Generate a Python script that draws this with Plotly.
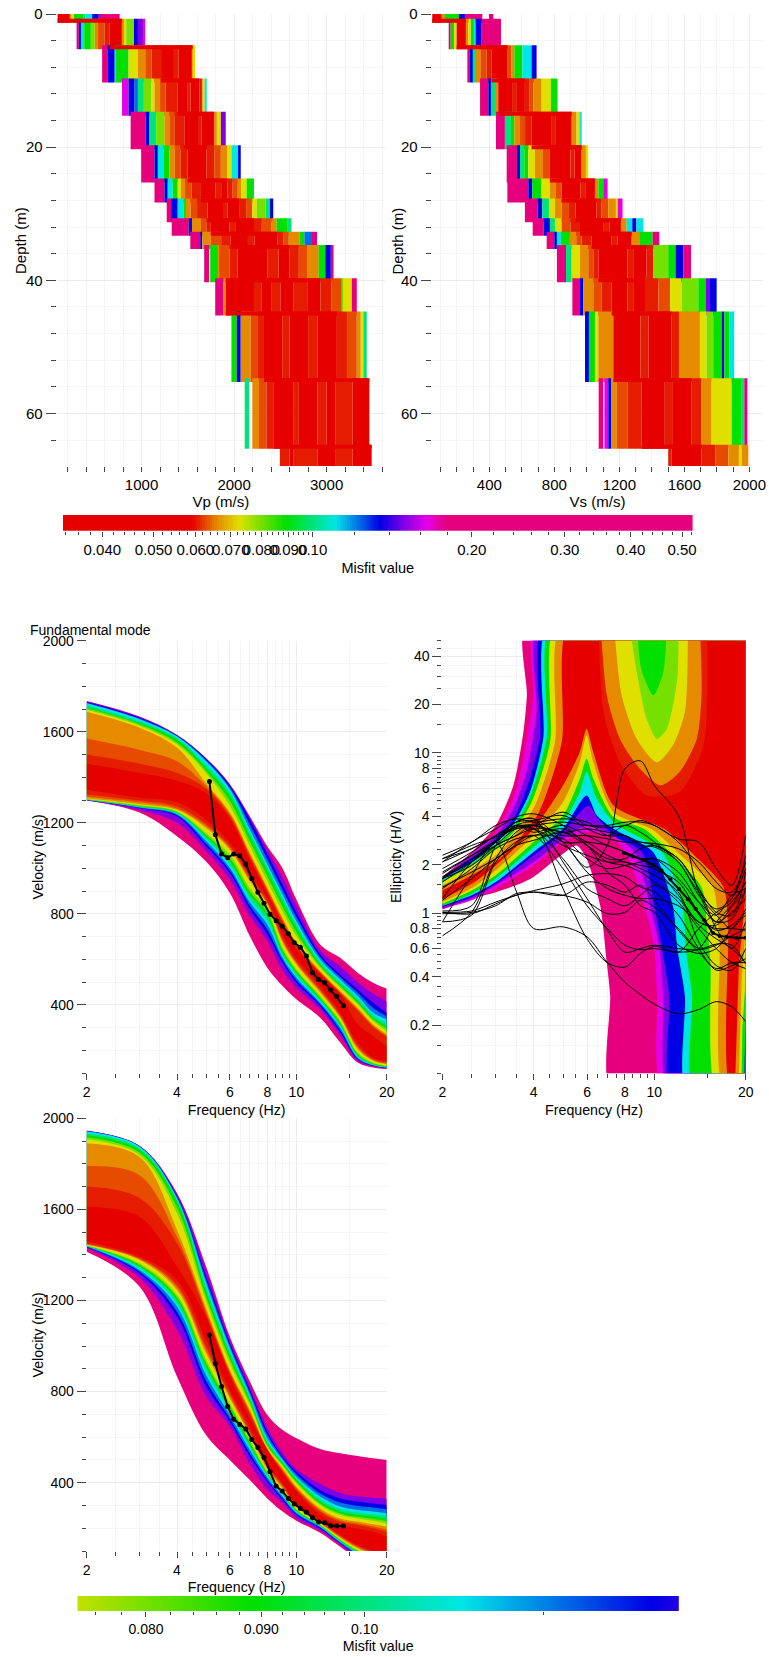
import math
import numpy as np
import plotly.graph_objects as go

W, H = 769, 1657
FONT = "Liberation Sans, Arial, sans-serif"

# ---- misfit classes
R, r, d, O, Y, L, G, T, C, S, B, V, M, P = (0.05, 0.0605, 0.0628, 0.066, 0.0726, 0.08, 0.089, 0.10,
                                            0.1105, 0.122, 0.134, 0.1486, 0.1647, 0.20)
MISFIT_STOPS = [0.0337, 0.0592, 0.066, 0.0726, 0.0891, 0.1105, 0.134, 0.1486, 0.1647, 0.1785, 0.5236]
MISFIT_COLORS = ["#e60000", "#e60000", "#e68a00", "#e0e000", "#00e000", "#00e6e6",
                 "#0000e6", "#8000e6", "#e600e6", "#e6007e", "#e6007e"]

# ---- velocity profiles
DEPTH_BOUNDS = [0, 1, 5, 10, 15, 20, 25, 28, 31, 33, 35, 40, 45, 55, 65, 68]
VP_EDGES = [
    [93, 226, 244, 269, 369, 394, 466, 538, 763],
    [298, 323, 345, 380, 452, 495, 530, 600, 656, 789, 810, 835, 918, 961, 1018, 1039],
    [574, 631, 710, 725, 860, 961, 1040, 1110, 1211, 1350, 1400, 1552, 1563, 1581],
    [789, 860, 925, 961, 1025, 1104, 1140, 1200, 1260, 1391, 1500, 1530, 1624, 1659, 1684, 1699],
    [882, 1043, 1086, 1158, 1247, 1300, 1360, 1462, 1620, 1650, 1785, 1814, 1857, 1910],
    [996, 1140, 1176, 1236, 1301, 1360, 1420, 1498, 1700, 1785, 1857, 1928, 1971, 2043, 2072],
    [1140, 1247, 1283, 1337, 1391, 1426, 1470, 1540, 1642, 1800, 1860, 1928, 1985, 2040, 2079, 2136, 2215],
    [1272, 1319, 1391, 1455, 1480, 1530, 1600, 1713, 1880, 1930, 2054, 2130, 2197, 2244, 2340, 2387, 2423],
    [1326, 1509, 1545, 1642, 1700, 1749, 1950, 2020, 2215, 2300, 2401, 2459, 2573, 2620],
    [1527, 1634, 1656, 1749, 1860, 1964, 2150, 2220, 2466, 2530, 2591, 2706, 2760, 2842, 2896],
    [1677, 1731, 1742, 1828, 1839, 1950, 2036, 2358, 2480, 2600, 2700, 2788, 2914, 2986, 3046, 3075],
    [1796, 1885, 1910, 2215, 2300, 2400, 2500, 2645, 2790, 2932, 3050, 3165, 3183, 3272, 3326],
    [1971, 2029, 2072, 2179, 2250, 2323, 2520, 2600, 2800, 2900, 3111, 3220, 3326, 3369, 3398, 3434],
    [2115, 2161, 2197, 2269, 2350, 2430, 2645, 2700, 2900, 3000, 3093, 3280, 3462],
    [2495, 2600, 2645, 2900, 3100, 3280, 3487],
]
VP_MISFIT = [
    [R, O, Y, G, T, C, B, P],
    [P, B, C, G, L, O, d, r, R, O, Y, L, B, V, M],
    [P, B, C, G, Y, O, d, r, R, r, R, O, Y],
    [M, B, S, T, L, Y, O, d, r, R, r, R, r, Y, C],
    [P, B, T, L, O, d, r, R, r, R, O, Y, V],
    [P, B, C, G, O, d, r, R, r, d, O, Y, C, B],
    [P, B, C, G, Y, O, d, r, R, r, R, r, d, O, Y, G],
    [P, B, C, G, O, d, r, R, r, R, r, d, Y, L, T, B],
    [P, B, O, d, r, R, r, R, r, d, O, G, T],
    [P, B, O, d, r, R, r, R, r, d, O, G, S, P],
    [P, None, G, O, d, r, R, r, R, r, d, O, G, B, P],
    [P, O, R, r, R, r, R, r, R, r, d, L, Y, P],
    [G, B, O, d, r, R, r, R, r, R, r, d, O, Y, T],
    [T, None, O, d, r, R, r, R, r, R, r, R],
    [r, R, r, R, r, R],
]
VS_EDGES = [
    [49, 107, 127, 213, 250, 357, 398, 425],
    [152, 162, 183, 199, 256, 271, 287, 308, 316, 353, 472],
    [265, 281, 302, 312, 345, 384, 414, 513, 535, 554, 603, 660, 691],
    [343, 394, 410, 435, 455, 540, 570, 619, 645, 671, 722, 779, 820],
    [441, 496, 533, 554, 589, 620, 660, 780, 810, 907, 937, 958, 968],
    [507, 570, 589, 615, 640, 681, 730, 773, 900, 925, 968, 997, 1009],
    [511, 640, 665, 718, 773, 810, 845, 960, 990, 1050, 1071, 1101, 1128],
    [619, 697, 726, 767, 804, 845, 890, 931, 1060, 1090, 1132, 1183, 1190, 1220],
    [667, 734, 773, 804, 845, 900, 958, 1100, 1140, 1210, 1245, 1280, 1305, 1348],
    [753, 800, 816, 841, 896, 935, 968, 1030, 1150, 1190, 1276, 1327, 1405, 1446],
    [816, 872, 907, 958, 1009, 1040, 1071, 1250, 1290, 1368, 1409, 1501, 1546, 1594, 1641],
    [911, 958, 978, 1040, 1090, 1153, 1250, 1290, 1358, 1440, 1512, 1583, 1686, 1731, 1758, 1799],
    [989, 1013, 1050, 1071, 1163, 1330, 1380, 1522, 1567, 1696, 1737, 1778, 1830, 1846, 1877, 1907],
    [1073, 1101, 1108, 1132, 1149, 1184, 1250, 1337, 1480, 1530, 1645, 1706, 1768, 1891, 1949, 1969, 1988],
    [1501, 1522, 1706, 1790, 1871, 1936, 1953, 1994],
]
VS_MISFIT = [
    [R, O, G, B, P, None, P],
    [P, G, Y, R, O, Y, G, C, B, P],
    [P, B, T, O, d, r, R, d, O, G, C, B],
    [P, B, T, O, R, r, R, r, d, O, Y, G],
    [P, T, G, O, d, r, R, r, R, O, Y, C],
    [P, B, T, G, Y, O, d, R, r, R, O, Y],
    [P, B, G, Y, O, d, R, r, R, O, G, M],
    [P, B, T, Y, O, d, r, R, r, d, O, Y, M],
    [P, B, T, Y, d, r, R, r, R, O, C, B, C],
    [P, B, C, G, O, d, r, R, r, R, O, G, P],
    [P, T, Y, O, d, r, R, r, R, r, L, G, B, P],
    [P, B, O, d, r, R, r, R, r, d, Y, L, G, V, B],
    [B, G, Y, O, R, r, R, r, O, Y, L, G, B, G, C],
    [P, None, M, B, O, d, r, R, r, R, r, O, Y, G, T, P],
    [r, R, r, d, O, Y, O],
]

# ---- dispersion bands: (misfit, upper envelope, lower envelope) from worst to best
BAND_FREQ = [2, 3, 4, 5, 6, 7, 8, 9, 10, 12, 14, 16, 18, 20]
RAYLEIGH_BANDS = [
    (P, [1735, 1667, 1586, 1484, 1370, 1228, 1097, 1000, 863, 666, 607, 542, 498, 472],
        [1298, 1245, 1141, 1030, 892, 702, 564, 483, 425, 344, 235, 147, 125, 118]),
    (V, [1733, 1665, 1586, 1484, 1368, 1222, 1080, 960, 835, 640, 570, 500, 450, 415],
        [1299, 1255, 1200, 1075, 950, 790, 680, 550, 475, 380, 265, 155, 130, 122]),
    (B, [1731, 1662, 1584, 1480, 1362, 1214, 1062, 927, 805, 622, 534, 469, 410, 366],
        [1300, 1265, 1228, 1097, 980, 821, 710, 585, 498, 396, 279, 162, 133, 124]),
    (S, [1728, 1658, 1582, 1475, 1355, 1192, 1040, 905, 786, 611, 523, 454, 388, 351],
        [1300, 1266, 1233, 1108, 991, 836, 731, 596, 509, 403, 290, 165, 134, 124]),
    (C, [1725, 1655, 1579, 1470, 1348, 1170, 1018, 884, 768, 600, 512, 439, 366, 337],
        [1301, 1268, 1238, 1120, 1002, 851, 753, 607, 520, 410, 300, 169, 136, 125]),
    (T, [1716, 1646, 1572, 1455, 1333, 1155, 1004, 869, 753, 589, 501, 428, 355, 322],
        [1301, 1270, 1241, 1130, 1016, 866, 771, 618, 531, 417, 307, 174, 138, 127]),
    (G, [1708, 1637, 1565, 1440, 1319, 1141, 990, 854, 739, 578, 490, 418, 344, 308],
        [1302, 1272, 1245, 1140, 1030, 882, 790, 629, 542, 425, 315, 179, 140, 130]),
    (L, [1703, 1633, 1553, 1429, 1297, 1119, 967, 832, 720, 571, 483, 410, 337, 297],
        [1303, 1274, 1247, 1147, 1045, 897, 805, 640, 549, 432, 322, 185, 143, 131]),
    (Y, [1697, 1627, 1545, 1418, 1275, 1097, 945, 810, 702, 564, 476, 403, 330, 286],
        [1305, 1278, 1250, 1155, 1060, 913, 820, 651, 556, 440, 330, 191, 147, 133]),
    (O, [1688, 1618, 1530, 1374, 1246, 1068, 916, 781, 673, 549, 461, 388, 315, 271],
        [1308, 1282, 1257, 1177, 1082, 943, 841, 673, 578, 454, 344, 206, 155, 140]),
    (d, [1570, 1520, 1470, 1362, 1238, 1059, 908, 773, 666, 545, 457, 381, 309, 265],
        [1315, 1290, 1262, 1186, 1090, 951, 848, 681, 584, 461, 349, 213, 158, 143]),
    (r, [1500, 1460, 1420, 1350, 1230, 1050, 900, 765, 660, 540, 453, 375, 303, 260],
        [1325, 1298, 1272, 1195, 1097, 960, 855, 690, 590, 468, 355, 220, 162, 147]),
    (R, [1460, 1420, 1385, 1330, 1217, 1038, 887, 752, 647, 534, 447, 315, 264, 220],
        [1345, 1310, 1290, 1214, 1112, 975, 870, 710, 607, 483, 366, 235, 169, 155]),
]
LOVE_BANDS = [
    (P, [1946, 1879, 1671, 1349, 1041, 844, 697, 631, 595, 548, 529, 517, 507, 500],
        [1414, 1261, 866, 609, 500, 412, 331, 273, 233, 180, 119, 68, 55, 50]),
    (V, [1945, 1878, 1668, 1330, 1025, 820, 640, 530, 460, 395, 355, 340, 335, 331],
        [1431, 1300, 1071, 778, 646, 480, 370, 310, 245, 190, 128, 75, 60, 55]),
    (B, [1944, 1877, 1656, 1305, 1012, 807, 624, 514, 448, 368, 331, 317, 309, 302],
        [1435, 1319, 1129, 822, 668, 514, 404, 324, 258, 199, 134, 82, 65, 60]),
    (S, [1943, 1876, 1653, 1291, 1001, 796, 610, 507, 437, 353, 313, 298, 291, 283],
        [1436, 1326, 1150, 847, 682, 528, 413, 331, 263, 203, 136, 86, 68, 62]),
    (C, [1942, 1876, 1650, 1277, 990, 785, 595, 500, 426, 339, 295, 280, 273, 265],
        [1438, 1334, 1173, 873, 697, 543, 423, 339, 268, 207, 139, 90, 70, 64]),
    (T, [1934, 1868, 1642, 1257, 975, 774, 584, 492, 419, 328, 284, 269, 262, 254],
        [1439, 1341, 1188, 891, 711, 554, 430, 344, 272, 209, 142, 93, 72, 66]),
    (G, [1927, 1861, 1634, 1237, 961, 763, 573, 485, 412, 317, 273, 258, 251, 243],
        [1440, 1349, 1202, 909, 726, 565, 438, 350, 276, 211, 145, 97, 75, 68]),
    (L, [1917, 1850, 1608, 1217, 942, 752, 565, 479, 404, 309, 265, 250, 242, 232],
        [1441, 1356, 1213, 924, 737, 576, 443, 355, 280, 214, 148, 100, 78, 70]),
    (Y, [1908, 1839, 1583, 1198, 924, 741, 558, 473, 397, 302, 258, 243, 233, 221],
        [1442, 1363, 1224, 939, 748, 587, 448, 360, 283, 216, 151, 104, 80, 72]),
    (O, [1890, 1830, 1510, 1166, 895, 719, 550, 463, 382, 287, 243, 229, 217, 207],
        [1445, 1378, 1246, 968, 770, 609, 459, 375, 292, 221, 158, 112, 85, 74]),
    (d, [1790, 1750, 1480, 1153, 887, 710, 547, 456, 376, 279, 235, 221, 208, 196],
        [1447, 1382, 1257, 982, 780, 617, 465, 382, 296, 225, 162, 117, 90, 76]),
    (r, [1700, 1650, 1451, 1140, 880, 700, 545, 450, 370, 272, 228, 214, 200, 185],
        [1450, 1385, 1268, 997, 790, 625, 472, 390, 300, 229, 166, 121, 95, 78]),
    (R, [1612, 1568, 1349, 1127, 866, 683, 543, 441, 360, 258, 214, 199, 185, 163],
        [1460, 1393, 1290, 1027, 807, 646, 478, 397, 302, 233, 170, 126, 100, 80]),
]

# ---- measured dispersion picks
PICK_FREQ = [5.13, 5.37, 5.63, 5.90, 6.18, 6.47, 6.78, 7.10, 7.44, 7.80, 8.17, 8.56, 8.97,
             9.40, 9.84, 10.31, 10.80, 11.32, 11.86, 12.43, 13.02, 13.64, 14.35]
RAYLEIGH_PICK = [1382, 1148, 1063, 1047, 1063, 1056, 1019, 955, 895, 847, 799, 770, 746,
                 713, 673, 654, 615, 542, 512, 498, 466, 437, 397]
LOVE_PICK = [1049, 923, 822, 734, 678, 656, 636, 590, 554, 511, 448, 385, 363,
             331, 306, 287, 270, 246, 227, 224, 211, 210, 210]

# ---- ellipticity regions: (misfit, frequencies, ellipticity) painted in order
ELL_REGIONS = [
    (P, [2, 2.5, 3, 3.43, 3.7, 3.8, 3.81, 26, 26, 7.29, 7.15, 6.97, 6.63, 5.98, 5.54, 4.76, 4, 3.5, 3, 2.5, 2],
        [1.68, 2.40, 3.52, 6.25, 13.4, 22.8, 70, 70, 0.07, 0.07, 0.306, 0.49, 1.11, 2.18, 2.64, 2.18, 1.68, 1.49, 1.35, 1.23, 1.05]),
    (M, [2, 2.5, 3, 3.43, 3.74, 3.99, 4.09, 26, 26, 10.8, 10.2, 10, 9.27, 8.03, 7.15, 5.98, 5, 4, 3, 2.5, 2],
        [1.66, 2.35, 3.19, 5.16, 10.1, 22.8, 70, 70, 0.07, 0.07, 0.306, 0.60, 1.11, 2.40, 3.04, 3.19, 2.77, 1.98, 1.42, 1.20, 1.06]),
    (V, [2, 2.5, 3, 3.43, 3.79, 4.09, 4.19, 26, 26, 11.3, 10.7, 10.4, 9.67, 8.6, 6.97, 5.98, 5, 4, 3, 2.5, 2],
        [1.65, 2.29, 3.04, 4.47, 7.57, 17.9, 70, 70, 0.07, 0.07, 0.306, 0.60, 1.11, 2.40, 3.19, 3.52, 2.90, 2.08, 1.49, 1.23, 1.07]),
    (B, [2, 2.5, 3, 3.43, 3.79, 4.19, 4.39, 26, 26, 11.5, 11.2, 10.6, 10, 9.1, 7.33, 6.54, 6.06, 5, 4, 3, 2.5, 2],
        [1.64, 2.18, 2.90, 3.87, 5.96, 12.2, 70, 70, 0.07, 0.07, 0.306, 0.60, 1.11, 2.40, 3.04, 3.87, 4.69, 3.19, 2.29, 1.52, 1.26, 1.09]),
    (C, [2, 2.5, 3, 3.43, 3.89, 4.3, 4.53, 26, 26, 12.9, 12.6, 11.9, 11.5, 9.9, 7.33, 6.46, 5.98, 5, 4, 3, 2.5, 2],
        [1.62, 2.08, 2.77, 3.60, 5.68, 12.2, 70, 70, 0.07, 0.07, 0.306, 0.60, 1.11, 2.40, 3.35, 4.06, 5.41, 3.35, 2.40, 1.56, 1.29, 1.11]),
    (G, [2, 2.5, 3, 3.43, 3.89, 4.41, 4.64, 26, 26, 13.6, 13.3, 12.7, 12.4, 10.6, 7.33, 6.46, 5.98, 5.68, 5, 4, 3, 2.5, 2],
        [1.60, 2.03, 2.64, 3.43, 5.28, 12.2, 70, 70, 0.07, 0.07, 0.306, 0.60, 1.11, 2.40, 3.69, 5.16, 7.57, 5.68, 3.69, 2.58, 1.64, 1.32, 1.11]),
    (Y, [2, 2.5, 3, 3.43, 3.94, 4.53, 4.82, 26, 26, 16.3, 15.3, 14.9, 14.3, 11.3, 9.27, 7.33, 6.29, 5.98, 5.68, 5, 4, 3, 2.5, 2],
        [1.56, 1.98, 2.52, 3.19, 4.92, 11.6, 70, 70, 0.07, 0.07, 0.49, 0.84, 1.45, 2.37, 3.34, 3.97, 6.88, 9.16, 6.88, 4.06, 2.77, 1.72, 1.38, 1.14]),
    (O, [2, 2.5, 3, 3.43, 4.04, 4.7, 5.03, 26, 26, 17.2, 16.4, 16.1, 15.6, 12, 9.78, 7.33, 6.29, 5.98, 5.68, 5, 4, 3, 2.5, 2],
        [1.49, 1.85, 2.29, 2.97, 4.69, 11.6, 70, 70, 0.07, 0.07, 0.63, 1.06, 1.45, 2.37, 3.34, 4.26, 8.73, 12.8, 8.73, 4.92, 3.04, 1.85, 1.43, 1.17]),
    (R, [2, 2.5, 3, 3.43, 4.14, 4.95, 5.33, 26, 26, 18.2, 17.5, 16.9, 13.3, 10.8, 7.33, 6.29, 5.98, 5.68, 5, 4, 3, 2.5, 2],
        [1.38, 1.72, 2.08, 2.64, 4.16, 11.6, 70, 70, 0.07, 0.07, 0.80, 1.45, 2.37, 3.34, 4.69, 10.1, 14.1, 10.1, 6.25, 3.35, 1.98, 1.52, 1.22]),
    (r, [6.54, 6.8, 7.7, 9.43, 12.1, 14.5, 14.9], [70, 17.9, 8.73, 5.41, 5.68, 11.1, 70]),
    (O, [6.63, 6.97, 7.7, 8.96, 10.5, 12.1, 13.8, 14.3, 14.1], [70, 22.8, 12.2, 7.94, 6.25, 7.57, 12.2, 22.8, 70]),
    (Y, [7.33, 7.8, 8.75, 10.2, 11.5, 12.6, 12.9], [70, 22.8, 12.2, 8.73, 11.1, 17.9, 70]),
    (L, [8.2, 8.75, 9.43, 10.2, 11, 11.9, 12], [70, 31.8, 16.3, 12.2, 14.1, 28.9, 70]),
    (G, [8.75, 9.05, 9.92, 10.7, 11], [70, 33.4, 22.8, 31.8, 70]),
    (O, [20, 19, 18.5, 20], [1.29, 0.49, 0.1, 0.1]),
    (Y, [20, 19.4, 19, 20], [0.8, 0.39, 0.1, 0.1]),
    (G, [20, 19.5, 19.4, 20], [0.39, 0.19, 0.1, 0.1]),
    (B, [20, 19.8, 20], [0.24, 0.1, 0.1]),
]

# ---- measured H/V curves
HV_FREQ = [2, 2.5, 3, 3.5, 4, 5, 6, 7, 8, 9, 10, 12, 14, 16, 18, 20]
HV_CURVES = [
    [1.23, 2.08, 2.77, 3.43, 3.52, 2.77, 1.93, 2.64, 7.94, 8.9, 6.25, 4.06, 1.35, .88, .92, 1.42],
    [.88, 1.72, 2.77, 1.38, .80, .82, .71, .49, .37, .31, .27, .235, .25, .28, .26, .21],
    [.72, 1.01, 2.18, 3.19, 3.52, 1.42, .69, .49, .46, .56, .62, .57, .80, 1.01, 1.17, 1.56],
    [1.01, 1.03, 1.17, 1.29, 1.38, 1.52, 1.72, 1.76, 1.68, 1.45, 1.35, .97, .60, .44, .47, .52],
    [.99, 1.01, 1.11, 1.32, 1.35, 1.29, 1.56, 1.49, 1.35, 1.49, 1.20, .78, .57, .45, .49, .49],
    [1.01, .99, 1.14, 1.29, 1.35, 1.29, 1.17, .99, 1.01, 1.20, 1.09, .80, .60, .63, .72, .80],
    [2.08, 2.77, 3.35, 3.97, 4.16, 3.52, 2.64, 2.08, 1.98, 1.80, 1.56, 1.17, .80, .60, .49, .45],
    [2.29, 2.77, 3.52, 3.87, 3.69, 3.87, 3.69, 3.04, 3.04, 2.64, 2.58, 2.08, 1.29, .97, .80, 1.06],
    [2.18, 2.64, 2.97, 3.35, 3.52, 3.69, 3.52, 3.52, 3.69, 3.69, 3.52, 2.77, 1.89, 1.42, 1.35, 2.08],
    [2.18, 2.52, 3.04, 3.43, 3.52, 4.26, 3.52, 3.43, 3.52, 3.78, 3.52, 2.90, 2.77, 1.89, 1.49, 3.04],
    [1.76, 2.29, 2.84, 3.43, 3.52, 3.19, 3.35, 3.19, 3.04, 2.77, 2.71, 2.52, 2.08, 1.56, 1.29, 2.29],
    [1.68, 2.08, 2.64, 3.04, 3.52, 3.04, 3.04, 2.90, 2.77, 2.77, 2.64, 2.18, 1.42, 1.01, .97, 1.80],
    [1.64, 2.18, 2.77, 3.52, 3.69, 2.77, 2.77, 2.64, 2.40, 2.18, 2.18, 1.64, 1.17, .97, 1.29, 1.42],
    [1.20, 1.64, 2.18, 2.64, 2.84, 3.19, 2.77, 2.29, 2.08, 1.98, 1.89, 1.29, .88, .84, 1.11, 1.56],
    [1.45, 1.80, 2.18, 2.64, 3.04, 2.90, 2.18, 1.89, 1.98, 2.08, 2.18, 1.80, 1.17, .88, 1.01, 1.23],
    [1.68, 2.18, 2.64, 3.04, 3.35, 3.19, 2.64, 2.18, 2.18, 2.52, 2.64, 2.18, 1.42, .80, .60, .88],
    [1.56, 2.08, 2.77, 3.69, 3.87, 2.77, 1.80, 1.42, 1.29, 1.23, 1.23, 1.11, .88, .80, .80, .78],
    [1.80, 2.29, 2.77, 3.52, 3.35, 2.18, 1.42, 1.23, 1.11, 1.29, 1.49, 1.23, .84, .69, .60, .49],
    [1.64, 1.98, 2.64, 3.35, 3.35, 2.64, 2.29, 2.08, 2.08, 1.89, 1.72, 1.35, .66, .47, .44, .60],
    [1.89, 2.40, 3.04, 3.52, 3.19, 3.52, 3.04, 2.64, 2.40, 2.18, 1.89, 1.56, 1.01, .78, .84, 1.01],
    [2.08, 2.52, 3.04, 3.69, 3.78, 4.06, 3.35, 3.04, 3.52, 3.19, 2.77, 2.08, 1.35, 1.06, 1.23, 1.89],
    [1.42, 1.89, 2.52, 2.90, 3.04, 3.35, 2.64, 1.80, 1.49, 1.11, 1.01, .63, .56, .60, .80, .97],
    [.88, .97, 2.08, 2.77, 3.04, 1.89, 1.11, .80, .63, .59, .60, .57, .60, .88, 1.11, 1.35],
    [1.03, 1.11, 2.64, 3.69, 3.87, 2.08, 1.23, .78, .57, .60, .63, .60, .59, .64, .63, .48],
]
HV_PICK_FREQ = [7.94, 8.5, 9.24, 9.9, 10.55, 11.3, 12.05, 12.9, 13.7, 14.6, 15.6, 16.4, 17.3, 18.6, 20]
HV_PICK = [2.37, 2.25, 2.14, 2.0, 1.85, 1.62, 1.41, 1.22, 1.06, .9, .75, .72, .71, .70, .70]

# ---- tick labels
VP_TICKS = [1000, 2000, 3000]
VS_TICKS = [400, 800, 1200, 1600, 2000]
DEPTH_TICKS = [0, 20, 40, 60]
DEPTH_MINOR = [4, 8, 12, 16, 24, 28, 32, 36, 44, 48, 52, 56, 64, 68]
VP_MINOR = [200, 400, 600, 800, 1200, 1400, 1600, 1800, 2200, 2400, 2600, 2800, 3200, 3400, 3600]
VS_MINOR = [100, 200, 300, 500, 600, 700, 900, 1000, 1100, 1300, 1400, 1500, 1700, 1800, 1900]
FREQ_TICKS = [2, 4, 6, 8, 10, 20]
FREQ_MINOR = [2.5, 3, 3.5, 4.5, 5, 5.5, 6.5, 7, 7.5, 8.5, 9, 9.5, 15]
VEL_TICKS = [400, 800, 1200, 1600, 2000]
VEL_MINOR = [100, 200, 300, 500, 600, 700, 900, 1000, 1100, 1300, 1400, 1500, 1700, 1800, 1900]
ELL_TICKS = [0.2, 0.4, 0.6, 0.8, 1, 2, 4, 6, 8, 10, 20, 40]
ELL_MINOR = [0.1, 0.15, 0.25, 0.3, 0.35, 0.45, 0.5, 0.55, 0.65, 0.7, 0.75, 0.85, 0.9, 0.95, 1.5, 2.5,
             3, 3.5, 4.5, 5, 5.5, 6.5, 7, 7.5, 8.5, 9, 9.5, 15, 25, 30, 35, 45, 50]
CB1_TICKS = [0.04, 0.05, 0.06, 0.07, 0.08, 0.09, 0.10, 0.20, 0.30, 0.40, 0.50]
CB1_LABELS = ["0.040", "0.050", "0.060", "0.070", "0.080", "0.090", "0.10", "0.20", "0.30", "0.40", "0.50"]
CB1_MINOR = [0.034, 0.036, 0.038, 0.042, 0.044, 0.046, 0.048, 0.052, 0.054, 0.056, 0.058, 0.062, 0.064,
             0.066, 0.068, 0.072, 0.074, 0.076, 0.078, 0.082, 0.084, 0.086, 0.088, 0.092, 0.094, 0.096,
             0.098, 0.12, 0.14, 0.16, 0.18, 0.22, 0.24, 0.26, 0.28, 0.32, 0.34, 0.36, 0.38, 0.42, 0.44,
             0.46, 0.48, 0.52]
CB2_TICKS = [0.08, 0.09, 0.10]
CB2_LABELS = ["0.080", "0.090", "0.10"]
CB2_MINOR = [0.076, 0.078, 0.082, 0.084, 0.086, 0.088, 0.092, 0.094, 0.096, 0.098, 0.12]

# ---- colour scale ------------------------------------------------------------
def hex_rgb(h):
    return tuple(int(h[i:i + 2], 16) for i in (1, 3, 5))

def misfit_color(m):
    lm = math.log10(m)
    logs = [math.log10(s) for s in MISFIT_STOPS]
    rgb = [hex_rgb(c) for c in MISFIT_COLORS]
    for i in range(len(logs) - 1):
        if lm <= logs[i + 1]:
            t = max(0.0, (lm - logs[i]) / (logs[i + 1] - logs[i]))
            a, b = rgb[i], rgb[i + 1]
            return "rgb(%d,%d,%d)" % tuple(round(a[k] + t * (b[k] - a[k])) for k in range(3))
    return "rgb(%d,%d,%d)" % rgb[-1]

LO, HI = math.log10(MISFIT_STOPS[0]), math.log10(MISFIT_STOPS[-1])
COLORSCALE = [[(math.log10(s) - LO) / (HI - LO), c] for s, c in zip(MISFIT_STOPS, MISFIT_COLORS)]

# ---- figure helpers ------------------------------------------------------------
fig = go.Figure()
TICKC = "#444444"
GRID = "#ececec"
GRID2 = "#f5f5f5"
layout = dict(width=W, height=H, autosize=False, margin=dict(l=0, r=0, t=0, b=0, pad=0),
              paper_bgcolor="white", plot_bgcolor="white", showlegend=False, barmode="overlay",
              font=dict(family=FONT, size=14, color="black"), hovermode=False)
annotations = []

def add_axes(n, px, py, xcfg, ycfg):
    sx = "xaxis" if n == 1 else f"xaxis{n}"
    sy = "yaxis" if n == 1 else f"yaxis{n}"
    base = dict(showline=False, zeroline=False, showgrid=True, gridcolor=GRID, gridwidth=1,
                ticks="outside", tickcolor=TICKC, tickwidth=1, tickangle=0, automargin=False)
    x = dict(base, domain=[px[0] / W, px[1] / W], anchor=f"y{'' if n == 1 else n}", **xcfg)
    y = dict(base, domain=[1 - py[1] / H, 1 - py[0] / H], anchor=f"x{'' if n == 1 else n}", **ycfg)
    layout[sx] = x
    layout[sy] = y
    return f"x{'' if n == 1 else n}", f"y{'' if n == 1 else n}"

def minor(vals, length=4):
    return dict(tickmode="array", tickvals=vals, ticklen=length, ticks="outside", tickcolor=TICKC,
                showgrid=True, gridcolor=GRID2)

def title(text, size, standoff):
    return dict(text=text, font=dict(size=size, family=FONT, color="black"), standoff=standoff)

def ytitle(text, xpx, ypx, size):
    annotations.append(dict(text=text, xref="paper", yref="paper", x=xpx / W, y=1 - ypx / H, textangle=-90,
                            xanchor="center", yanchor="middle", showarrow=False,
                            font=dict(size=size, family=FONT, color="black")))

def profile(xa, ya, edges, misfit):
    for k, (ed, mf) in enumerate(zip(edges, misfit)):
        top, bot = DEPTH_BOUNDS[k], DEPTH_BOUNDS[k + 1]
        base, wid, col = [], [], []
        for i, m in enumerate(mf):
            if m is None:
                continue
            base.append(ed[i]); wid.append(ed[i + 1] - ed[i]); col.append(misfit_color(m))
        fig.add_trace(go.Bar(orientation="h", y=[(top + bot) / 2] * len(base), x=wid, base=base,
                             width=bot - top + 0.6, marker=dict(color=col, line=dict(width=0)),
                             xaxis=xa, yaxis=ya))
    for k in range(len(edges) - 1):
        first = edges[k][[i for i, m in enumerate(misfit[k]) if m == R][0]]
        last = edges[k + 1][[i for i, m in enumerate(misfit[k + 1]) if m == R][-1] + 1]
        if last > first:
            fig.add_trace(go.Bar(orientation="h", y=[DEPTH_BOUNDS[k + 1]], x=[last - first], base=[first],
                                 width=0.6, marker=dict(color=misfit_color(R), line=dict(width=0)),
                                 xaxis=xa, yaxis=ya))

def bands(xa, ya, table):
    for m, up, low in table:
        fig.add_trace(go.Scatter(x=BAND_FREQ, y=low, mode="lines", xaxis=xa, yaxis=ya,
                                 line=dict(width=0, shape="spline", smoothing=1)))
        fig.add_trace(go.Scatter(x=BAND_FREQ, y=up, mode="lines", xaxis=xa, yaxis=ya, fill="tonexty",
                                 fillcolor=misfit_color(m), line=dict(width=0, shape="spline", smoothing=1)))

def picks(xa, ya, f, v):
    fig.add_trace(go.Scatter(x=f, y=v, mode="lines+markers", xaxis=xa, yaxis=ya,
                             line=dict(color="black", width=2), marker=dict(color="black", size=5)))

def colorbar(xa, ya, lo, hi):
    x = np.geomspace(lo, hi, 260)
    fig.add_trace(go.Heatmap(x=x, y=[0.5], z=[np.log10(x)], colorscale=COLORSCALE, zmin=LO, zmax=HI,
                             showscale=False, xaxis=xa, yaxis=ya))

# ---- panel 1: Vp
xa, ya = add_axes(1, (56.7, 385), (14, 466),
                  dict(range=[83, 3631], tickvals=VP_TICKS, ticklen=5, tickfont=dict(size=15),
                       minor=minor(VP_MINOR, 5), title=title("Vp (m/s)", 15, 4)),
                  dict(range=[67.9, 0], tickvals=DEPTH_TICKS, ticklen=10, tickfont=dict(size=15),
                       minor=minor(DEPTH_MINOR, 5)))
profile(xa, ya, VP_EDGES, VP_MISFIT)
ytitle("Depth (m)", 20, 241, 15)

# ---- panel 2: Vs
xa, ya = add_axes(2, (431.7, 763.3), (14, 466),
                  dict(range=[45.5, 2086], tickvals=VS_TICKS, ticklen=5, tickfont=dict(size=15),
                       minor=minor(VS_MINOR, 5), title=title("Vs (m/s)", 15, 4)),
                  dict(range=[67.9, 0], tickvals=DEPTH_TICKS, ticklen=10, tickfont=dict(size=15),
                       minor=minor(DEPTH_MINOR, 5)))
profile(xa, ya, VS_EDGES, VS_MISFIT)
ytitle("Depth (m)", 396.5, 241, 15)

# ---- colour bar 1
xa, ya = add_axes(3, (63, 692.6), (515, 530.7),
                  dict(type="log", range=[math.log10(0.0337), math.log10(0.5236)], tickmode="array",
                       tickvals=CB1_TICKS, ticktext=CB1_LABELS, ticklen=5, tickfont=dict(size=15),
                       showgrid=False, minor=dict(minor(CB1_MINOR, 3), showgrid=False),
                       title=title("Misfit value", 14.5, 6)),
                  dict(range=[0, 1], visible=False, showgrid=False))
colorbar(xa, ya, 0.033, 0.53)

# ---- panel 3: first dispersion curve
def freq_axis():
    return dict(type="log", range=[math.log10(2), math.log10(20)], tickmode="array", tickvals=FREQ_TICKS,
                ticktext=[str(v) for v in FREQ_TICKS], ticklen=6, minor=minor(FREQ_MINOR, 4),
                title=title("Frequency (Hz)", 14.2, 5))

def vel_axis():
    return dict(range=[100, 2000], tickvals=VEL_TICKS, ticklen=9, minor=minor(VEL_MINOR, 4))

xa, ya = add_axes(4, (86.7, 386.7), (640.7, 1073.3), freq_axis(), vel_axis())
bands(xa, ya, RAYLEIGH_BANDS)
picks(xa, ya, PICK_FREQ, RAYLEIGH_PICK)
ytitle("Velocity (m/s)", 37.5, 857, 14.2)

# ---- panel 4: ellipticity
xa, ya = add_axes(5, (442.3, 745.7), (640.7, 1073.3), freq_axis(),
                  dict(type="log", range=[-1, math.log10(50)], tickmode="array", tickvals=ELL_TICKS,
                       ticktext=[f"{v:g}" for v in ELL_TICKS], ticklen=9, minor=minor(ELL_MINOR, 4)))
for m, f, e in ELL_REGIONS:
    line = dict(width=0, shape="spline", smoothing=0.7) if len(f) >= 5 else dict(width=0)
    fig.add_trace(go.Scatter(x=f, y=e, mode="lines", fill="toself", fillcolor=misfit_color(m),
                             line=line, xaxis=xa, yaxis=ya))
for c in HV_CURVES:
    fig.add_trace(go.Scatter(x=HV_FREQ, y=c, mode="lines", xaxis=xa, yaxis=ya,
                             line=dict(color="black", width=1, shape="spline", smoothing=0.9)))
fig.add_trace(go.Scatter(x=HV_PICK_FREQ, y=HV_PICK, mode="lines+markers", xaxis=xa, yaxis=ya,
                         line=dict(color="black", width=2), marker=dict(color="black", size=4)))
ytitle("Ellipticity (H/V)", 396, 857, 14.2)

# ---- panel 5: second dispersion curve
xa, ya = add_axes(6, (86.7, 386.7), (1118.3, 1551), freq_axis(), vel_axis())
bands(xa, ya, LOVE_BANDS)
picks(xa, ya, PICK_FREQ, LOVE_PICK)
ytitle("Velocity (m/s)", 37.5, 1335, 14.2)

# ---- colour bar 2
xa, ya = add_axes(7, (77.5, 678.8), (1596, 1611),
                  dict(type="log", range=[math.log10(0.0746), math.log10(0.1378)], tickmode="array",
                       tickvals=CB2_TICKS, ticktext=CB2_LABELS, ticklen=5, showgrid=False,
                       minor=dict(minor(CB2_MINOR, 3), showgrid=False),
                       title=title("Misfit value", 14.2, 5)),
                  dict(range=[0, 1], visible=False, showgrid=False))
colorbar(xa, ya, 0.074, 0.139)

annotations.append(dict(text="Fundamental mode", xref="paper", yref="paper", x=28 / W, y=1 - 630 / H,
                        xanchor="left", yanchor="middle", showarrow=False,
                        font=dict(size=14, family=FONT, color="black")))
layout["annotations"] = annotations
fig.update_layout(**layout)
fig.write_html("out.html", config={"displayModeBar": False},
               post_script="document.body.style.margin='0';")
